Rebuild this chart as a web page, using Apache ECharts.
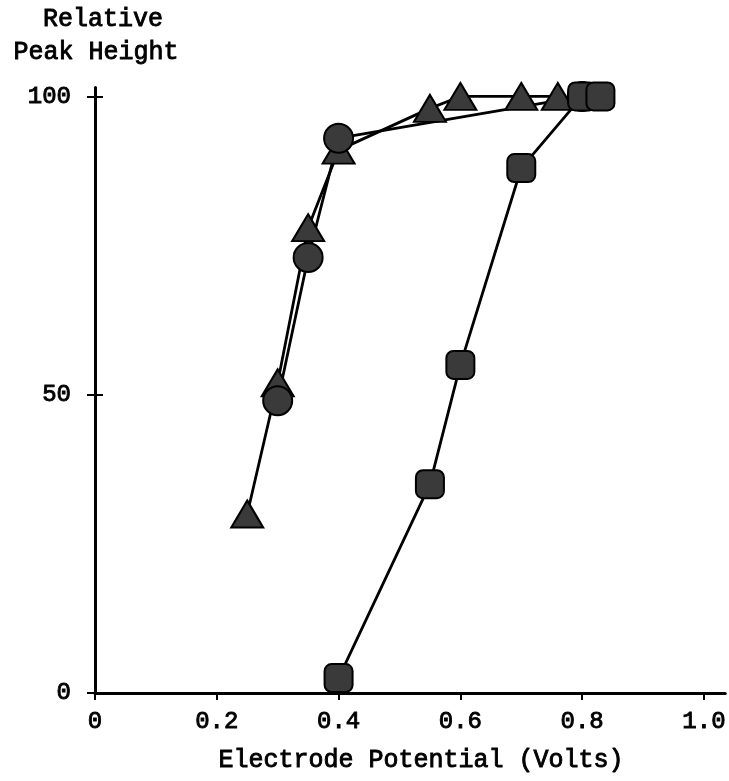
<!DOCTYPE html>
<html>
<head>
<meta charset="utf-8">
<script src="https://cdn.jsdelivr.net/npm/echarts@6/dist/echarts.min.js"></script>
<style>
  html, body { margin: 0; padding: 0; background: #ffffff; }
  #chart { width: 729px; height: 781px; }
</style>
</head>
<body>
<div id="chart"></div>
<script>
// Tick positions and labels
const xTicks = [0, 0.2, 0.4, 0.6, 0.8, 1.0];
const xTickLabels = ['0', '0.2', '0.4', '0.6', '0.8', '1.0'];
const yTicks = [0, 50, 100];
const yTickLabels = ['0', '50', '100'];

// Relative peak height vs. electrode potential, three data sets
const triangleX = [0.25, 0.30, 0.35, 0.40, 0.55, 0.60, 0.70, 0.76];
const triangleY = [30, 52, 78, 91, 98, 100, 100, 100];
const circleX = [0.30, 0.35, 0.40, 0.80];
const circleY = [49, 73, 93, 100];
const squareX = [0.40, 0.55, 0.60, 0.70, 0.80, 0.83];
const squareY = [2.5, 35, 55, 88, 100, 100];

const FONT = 'Liberation Mono';
const INK = '#000000';
const FILL = '#3a3a3a';

// Typewriter-like text: regular face with a thin outline to thicken strokes
const textLook = {
  fontFamily: FONT, color: INK,
  textBorderColor: INK, textBorderWidth: 0.9
};

function pairs(xs, ys) { return xs.map((x, i) => [x, ys[i]]); }

function lineSeries(name, xs, ys, symbol, size) {
  return {
    name: name,
    type: 'line',
    data: pairs(xs, ys),
    symbol: symbol,
    symbolSize: size,
    showAllSymbol: true,
    lineStyle: { color: INK, width: 2.8 },
    itemStyle: { color: FILL, borderColor: INK, borderWidth: 2 },
    emphasis: { disabled: true },
    animation: false
  };
}

function heading(text, x, y) {
  return {
    type: 'text', x: x, y: y,
    style: { text: text, font: '25px "Liberation Mono"', fill: INK,
             stroke: INK, lineWidth: 0.9, align: 'center', verticalAlign: 'middle' }
  };
}

const chart = echarts.init(document.getElementById('chart'), null, { renderer: 'canvas' });

const baseX = { type: 'value', min: 0, max: 1.035, splitLine: { show: false } };
const baseY = { type: 'value', min: 0, max: 101.5, splitLine: { show: false } };

chart.setOption({
  backgroundColor: '#ffffff',
  animation: false,
  grid: { left: 95, right: 2, top: 87.5, bottom: 88 },
  xAxis: [
    Object.assign({}, baseX, {
      axisLine: { show: true, lineStyle: { color: INK, width: 3 } },
      axisTick: { show: true, customValues: xTicks, length: 7, lineStyle: { color: INK, width: 2 } },
      axisLabel: Object.assign({
        show: true, customValues: xTicks, margin: 17, fontSize: 24,
        formatter: v => xTickLabels[xTicks.findIndex(t => Math.abs(t - v) < 1e-9)] || ''
      }, textLook)
    }),
    Object.assign({}, baseX, {
      axisLine: { show: false },
      axisTick: { show: true, inside: true, customValues: xTicks, length: 7, lineStyle: { color: INK, width: 2 } },
      axisLabel: { show: false }
    })
  ],
  yAxis: [
    Object.assign({}, baseY, {
      axisLine: { show: true, lineStyle: { color: INK, width: 3 } },
      axisTick: { show: true, customValues: yTicks, length: 8, lineStyle: { color: INK, width: 2 } },
      axisLabel: Object.assign({
        show: true, customValues: yTicks, margin: 24, fontSize: 24,
        formatter: v => yTickLabels[yTicks.findIndex(t => Math.abs(t - v) < 1e-9)] || ''
      }, textLook)
    }),
    Object.assign({}, baseY, {
      position: 'left',
      axisLine: { show: false },
      axisTick: { show: true, inside: true, customValues: yTicks, length: 8, lineStyle: { color: INK, width: 2 } },
      axisLabel: { show: false }
    })
  ],
  graphic: [
    heading('Relative', 103, 19),
    heading('Peak Height', 96, 52),
    heading('Electrode Potential (Volts)', 421, 760)
  ],
  series: [
    lineSeries('Triangles', triangleX, triangleY, 'triangle', [32, 27]),
    lineSeries('Circles', circleX, circleY, 'circle', 29),
    lineSeries('Squares', squareX, squareY, 'roundRect', 28)
  ]
});
</script>
</body>
</html>
